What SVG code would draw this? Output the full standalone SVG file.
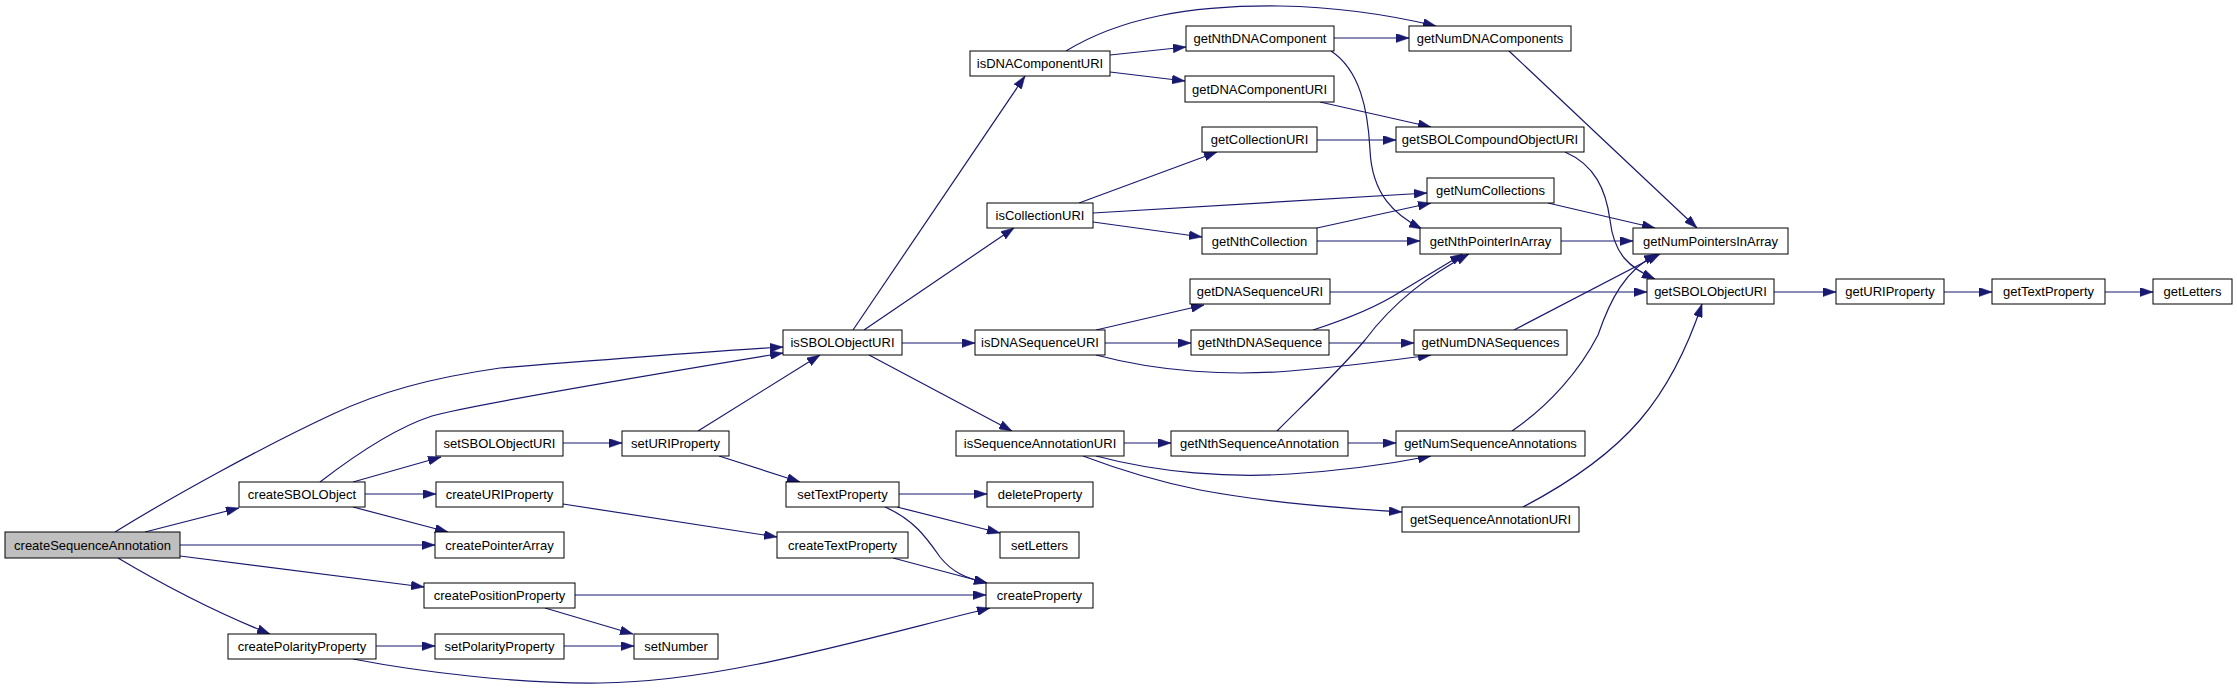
<svg xmlns="http://www.w3.org/2000/svg" width="2237" height="689" viewBox="0 0 2237 689">
<style>
.n rect{fill:#ffffff;stroke:#000000;stroke-width:1}
.n.root rect{fill:#bfbfbf}
.n text{font-family:"Liberation Sans",Arial,sans-serif;font-size:13px;fill:#000000;text-anchor:middle}
#edges path{fill:none;stroke:#191970;stroke-width:1.2;marker-end:url(#arr)}
</style>
<defs>
<marker id="arr" markerUnits="userSpaceOnUse" viewBox="0 0 13 9" refX="13" refY="4.5" markerWidth="13" markerHeight="9" orient="auto">
<path d="M0,0 L13,4.5 L0,9 z" fill="#191970" stroke="#191970" stroke-width="0.5"/>
</marker>
</defs>
<rect x="0" y="0" width="2237" height="689" fill="#ffffff"/>
<g id="edges">
<path d="M115,532 C170,498 260,448 333,414 C380,392 430,378 500,368 C600,360 700,352 783,347"/>
<path d="M145,532 L239,508"/>
<path d="M180,545 L435,545"/>
<path d="M180,556 L424,587"/>
<path d="M118,558 C150,577 210,610 270,634"/>
<path d="M320,482 C355,455 395,428 432,416 C470,405 680,370 783,353"/>
<path d="M353,482 L441,457"/>
<path d="M365,494 L436,494"/>
<path d="M353,507 L448,532"/>
<path d="M563,443 L622,443"/>
<path d="M698,431 L820,355"/>
<path d="M719,456 L800,482"/>
<path d="M563,504 L777,537"/>
<path d="M575,595 L986,595"/>
<path d="M545,608 L633,634"/>
<path d="M376,646 L435,646"/>
<path d="M353,659 C420,672 520,684 600,683 C720,682 860,640 990,608"/>
<path d="M564,646 L634,646"/>
<path d="M899,494 L987,494"/>
<path d="M897,507 L1000,533"/>
<path d="M885,507 C915,520 928,540 940,557 C952,572 965,578 987,583"/>
<path d="M893,558 L987,583"/>
<path d="M853,330 L1025,76"/>
<path d="M864,330 L1014,228"/>
<path d="M902,343 L975,343"/>
<path d="M869,355 L1012,431"/>
<path d="M1066,51 C1120,18 1190,5 1280,6 C1340,7 1390,15 1436,26"/>
<path d="M1110,55 L1186,47"/>
<path d="M1110,72 L1185,81"/>
<path d="M1334,38 L1409,38"/>
<path d="M1331,51 C1360,70 1368,110 1370,150 C1372,195 1395,215 1422,229"/>
<path d="M1509,51 L1697,228"/>
<path d="M1320,102 L1431,127"/>
<path d="M1317,140 L1396,140"/>
<path d="M1565,152 C1595,165 1606,190 1610,220 C1614,255 1630,268 1655,279"/>
<path d="M1079,203 L1217,152"/>
<path d="M1093,213 L1427,193"/>
<path d="M1093,222 L1202,237"/>
<path d="M1317,228 L1431,203"/>
<path d="M1317,241 L1420,241"/>
<path d="M1548,203 L1655,228"/>
<path d="M1561,241 L1633,241"/>
<path d="M1096,330 L1204,305"/>
<path d="M1105,343 L1191,343"/>
<path d="M1096,355 C1160,372 1230,376 1290,371 C1350,366 1395,360 1431,355"/>
<path d="M1330,292 L1647,292"/>
<path d="M1313,330 C1350,318 1380,305 1400,292 C1425,277 1445,265 1463,254"/>
<path d="M1329,343 L1414,343"/>
<path d="M1514,330 L1660,254"/>
<path d="M1124,443 L1171,443"/>
<path d="M1096,456 C1160,473 1230,478 1290,474 C1350,470 1395,463 1431,456"/>
<path d="M1083,456 C1120,470 1160,482 1200,490 C1270,503 1340,508 1402,512"/>
<path d="M1277,431 C1310,398 1340,370 1365,340 C1395,300 1430,275 1469,254"/>
<path d="M1348,443 L1396,443"/>
<path d="M1512,431 C1550,405 1580,370 1598,335 C1610,300 1625,270 1657,254"/>
<path d="M1523,507 C1565,485 1610,455 1640,420 C1670,385 1690,340 1702,304"/>
<path d="M1774,292 L1836,292"/>
<path d="M1944,292 L1992,292"/>
<path d="M2105,292 L2153,292"/>
</g>
<g id="createSequenceAnnotation" class="n root"><rect x="5" y="532" width="175" height="26"/><text x="92.5" y="549.5">createSequenceAnnotation</text></g>
<g id="createSBOLObject" class="n"><rect x="239" y="482" width="126" height="25"/><text x="302" y="499">createSBOLObject</text></g>
<g id="createPolarityProperty" class="n"><rect x="228" y="634" width="148" height="25"/><text x="302" y="651">createPolarityProperty</text></g>
<g id="setSBOLObjectURI" class="n"><rect x="436" y="431" width="127" height="25"/><text x="499.5" y="448">setSBOLObjectURI</text></g>
<g id="createURIProperty" class="n"><rect x="436" y="482" width="127" height="25"/><text x="499.5" y="499">createURIProperty</text></g>
<g id="createPointerArray" class="n"><rect x="435" y="532" width="129" height="26"/><text x="499.5" y="549.5">createPointerArray</text></g>
<g id="createPositionProperty" class="n"><rect x="424" y="583" width="151" height="25"/><text x="499.5" y="600">createPositionProperty</text></g>
<g id="setPolarityProperty" class="n"><rect x="435" y="634" width="129" height="25"/><text x="499.5" y="651">setPolarityProperty</text></g>
<g id="setURIProperty" class="n"><rect x="622" y="431" width="107" height="25"/><text x="675.5" y="448">setURIProperty</text></g>
<g id="setNumber" class="n"><rect x="634" y="634" width="84" height="25"/><text x="676" y="651">setNumber</text></g>
<g id="isSBOLObjectURI" class="n"><rect x="783" y="330" width="119" height="25"/><text x="842.5" y="347">isSBOLObjectURI</text></g>
<g id="setTextProperty" class="n"><rect x="786" y="482" width="113" height="25"/><text x="842.5" y="499">setTextProperty</text></g>
<g id="createTextProperty" class="n"><rect x="777" y="532" width="131" height="26"/><text x="842.5" y="549.5">createTextProperty</text></g>
<g id="deleteProperty" class="n"><rect x="987" y="482" width="106" height="25"/><text x="1040" y="499">deleteProperty</text></g>
<g id="setLetters" class="n"><rect x="1000" y="532" width="79" height="26"/><text x="1039.5" y="549.5">setLetters</text></g>
<g id="createProperty" class="n"><rect x="986" y="583" width="107" height="25"/><text x="1039.5" y="600">createProperty</text></g>
<g id="isDNAComponentURI" class="n"><rect x="970" y="51" width="140" height="25"/><text x="1040" y="68">isDNAComponentURI</text></g>
<g id="isCollectionURI" class="n"><rect x="987" y="203" width="106" height="25"/><text x="1040" y="220">isCollectionURI</text></g>
<g id="isDNASequenceURI" class="n"><rect x="975" y="330" width="130" height="25"/><text x="1040" y="347">isDNASequenceURI</text></g>
<g id="isSequenceAnnotationURI" class="n"><rect x="956" y="431" width="168" height="25"/><text x="1040" y="448">isSequenceAnnotationURI</text></g>
<g id="getNthDNAComponent" class="n"><rect x="1186" y="26" width="148" height="25"/><text x="1260" y="43">getNthDNAComponent</text></g>
<g id="getDNAComponentURI" class="n"><rect x="1185" y="76" width="149" height="26"/><text x="1259.5" y="93.5">getDNAComponentURI</text></g>
<g id="getCollectionURI" class="n"><rect x="1202" y="127" width="115" height="25"/><text x="1259.5" y="144">getCollectionURI</text></g>
<g id="getNthCollection" class="n"><rect x="1202" y="228" width="115" height="26"/><text x="1259.5" y="245.5">getNthCollection</text></g>
<g id="getDNASequenceURI" class="n"><rect x="1190" y="279" width="140" height="25"/><text x="1260" y="296">getDNASequenceURI</text></g>
<g id="getNthDNASequence" class="n"><rect x="1191" y="330" width="138" height="25"/><text x="1260" y="347">getNthDNASequence</text></g>
<g id="getNthSequenceAnnotation" class="n"><rect x="1171" y="431" width="177" height="25"/><text x="1259.5" y="448">getNthSequenceAnnotation</text></g>
<g id="getNumDNAComponents" class="n"><rect x="1409" y="26" width="162" height="25"/><text x="1490" y="43">getNumDNAComponents</text></g>
<g id="getSBOLCompoundObjectURI" class="n"><rect x="1396" y="127" width="188" height="25"/><text x="1490" y="144">getSBOLCompoundObjectURI</text></g>
<g id="getNumCollections" class="n"><rect x="1427" y="178" width="127" height="25"/><text x="1490.5" y="195">getNumCollections</text></g>
<g id="getNthPointerInArray" class="n"><rect x="1420" y="228" width="141" height="26"/><text x="1490.5" y="245.5">getNthPointerInArray</text></g>
<g id="getNumDNASequences" class="n"><rect x="1414" y="330" width="153" height="25"/><text x="1490.5" y="347">getNumDNASequences</text></g>
<g id="getNumSequenceAnnotations" class="n"><rect x="1396" y="431" width="189" height="25"/><text x="1490.5" y="448">getNumSequenceAnnotations</text></g>
<g id="getSequenceAnnotationURI" class="n"><rect x="1402" y="507" width="177" height="25"/><text x="1490.5" y="524">getSequenceAnnotationURI</text></g>
<g id="getNumPointersInArray" class="n"><rect x="1633" y="228" width="155" height="26"/><text x="1710.5" y="245.5">getNumPointersInArray</text></g>
<g id="getSBOLObjectURI" class="n"><rect x="1647" y="279" width="127" height="25"/><text x="1710.5" y="296">getSBOLObjectURI</text></g>
<g id="getURIProperty" class="n"><rect x="1836" y="279" width="108" height="25"/><text x="1890" y="296">getURIProperty</text></g>
<g id="getTextProperty" class="n"><rect x="1992" y="279" width="113" height="25"/><text x="2048.5" y="296">getTextProperty</text></g>
<g id="getLetters" class="n"><rect x="2153" y="279" width="79" height="25"/><text x="2192.5" y="296">getLetters</text></g>
</svg>
